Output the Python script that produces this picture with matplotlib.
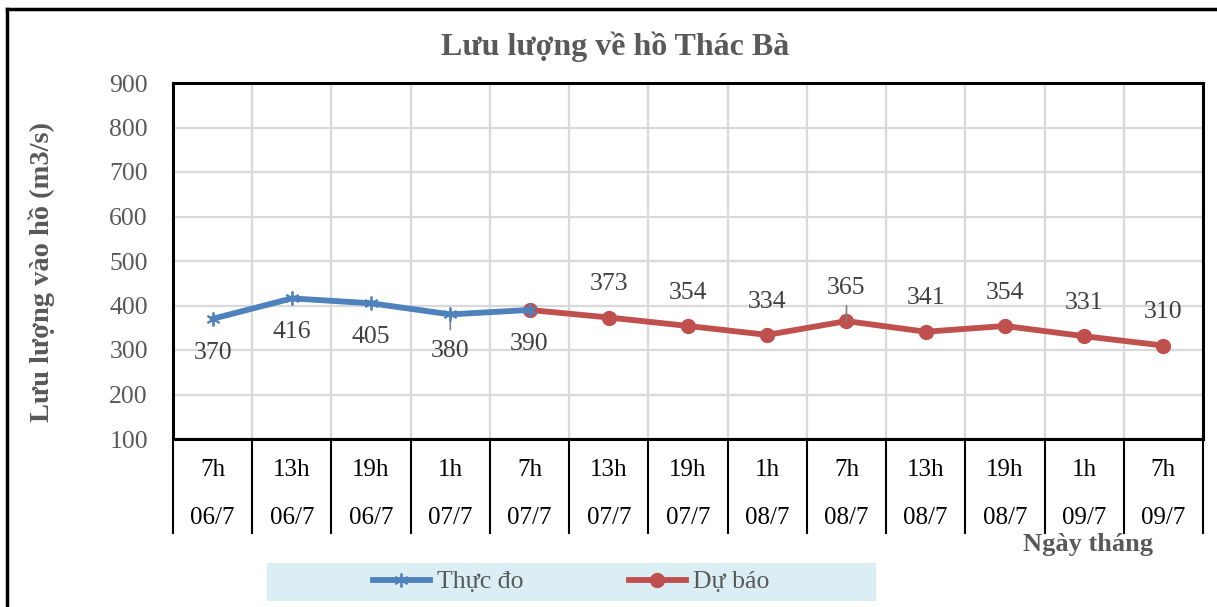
import matplotlib
matplotlib.use("Agg")
import matplotlib.pyplot as plt
from matplotlib.lines import Line2D
from matplotlib.patches import Rectangle
import matplotlib.transforms as mtransforms

hours = ["7h", "13h", "19h", "1h", "7h", "13h", "19h", "1h", "7h", "13h", "19h", "1h", "7h"]
dates = ["06/7", "06/7", "06/7", "07/7", "07/7", "07/7", "07/7", "08/7", "08/7", "08/7", "08/7", "09/7", "09/7"]
observed = [370, 416, 405, 380, 390]
forecast = [390, 373, 354, 334, 365, 341, 354, 331, 310]
forecast_start = 4

plt.rcParams['font.family'] = ['Liberation Serif', 'DejaVu Serif']

W, H = 1217, 607
fig = plt.figure(figsize=(W / 100, H / 100), dpi=100)
ax = fig.add_axes([173 / W, 1 - 439 / H, (1203 - 173) / W, (439 - 83) / H])

n = len(hours)
x_obs = list(range(len(observed)))
x_fc = list(range(forecast_start, forecast_start + len(forecast)))

ax.set_xlim(-0.5, n - 0.5)
ax.set_ylim(100, 900)
ax.set_yticks(range(100, 901, 100))
ax.set_xticks([i - 0.5 for i in range(n + 1)])
ax.set_xticklabels([])
ax.tick_params(axis='x', length=0)
ax.tick_params(axis='y', length=0, labelsize=18.5, labelcolor='#595959', pad=18)
ax.grid(True, color='#D9D9D9', linewidth=1.6)
ax.set_axisbelow(True)
for s in ax.spines.values():
    s.set_linewidth(2.2)
    s.set_color('black')

blue = '#4F81BD'
red = '#C0504D'
ax.plot(x_fc, forecast, color=red, linewidth=4.2, marker='o', markersize=10, zorder=3)
ax.plot(x_obs, observed, color=blue, linewidth=4.2, marker=(6, 2, 0), markersize=10,
        markeredgewidth=1.3, zorder=4)

for x, v in zip(x_obs, observed):
    off = -26 if x == 3 else -24.5
    ax.annotate(str(v), (x, v), xytext=(0, off), textcoords='offset points',
                ha='center', va='center', fontsize=18.5, color='#404040')
for x, v in zip(x_fc[1:], forecast[1:]):
    ax.annotate(str(v), (x, v), xytext=(0, 24), textcoords='offset points',
                ha='center', va='center', fontsize=18.5, color='#404040')

# leader lines
ax.annotate('', (3, 380), xytext=(0, -11), textcoords='offset points',
            arrowprops=dict(arrowstyle='-', color='#808080', lw=1.2, shrinkA=0, shrinkB=0))
ax.annotate('', (8, 365), xytext=(0, 11), textcoords='offset points',
            arrowprops=dict(arrowstyle='-', color='#808080', lw=1.2, shrinkA=0, shrinkB=0))

# category table
trans = mtransforms.blended_transform_factory(ax.transData, ax.transAxes)
y_bot = (439 - 533) / (439 - 83)
for i in range(n + 1):
    ax.add_line(Line2D([i - 0.5, i - 0.5], [0, y_bot], transform=trans, color='black',
                       linewidth=1.5, clip_on=False))
r1 = (439 - 470) / (439 - 83)
r2 = (439 - 518) / (439 - 83)
for i in range(n):
    ax.text(i, r1, hours[i], transform=trans, ha='center', va='center', fontsize=18, color='black')
    ax.text(i, r2, dates[i], transform=trans, ha='center', va='center', fontsize=18, color='black')

ax.set_ylabel("Lưu lượng vào hồ (m3/s)", fontsize=20.5, fontweight='bold', color='#595959')
ax.yaxis.set_label_coords(55 / W, 1 - 272 / H, transform=fig.transFigure)

fig.text(615 / W, 1 - 47 / H, "Lưu lượng về hồ Thác Bà", ha='center', va='center',
         fontsize=23, fontweight='bold', color='#595959')
fig.text(1088 / W, 1 - 545 / H, "Ngày tháng", ha='center', va='center',
         fontsize=19, fontweight='bold', color='#595959')

# legend
fig.patches.append(Rectangle((267 / W, 1 - 601 / H), 609 / W, 38 / H, transform=fig.transFigure,
                             facecolor='#DAEEF3', edgecolor='none', zorder=0))
handles = [Line2D([], [], color=blue, linewidth=4.2, marker=(6, 2, 0), markersize=10, markeredgewidth=1.3),
           Line2D([], [], color=red, linewidth=4.2, marker='o', markersize=10)]
leg = fig.legend(handles, ["Thực đo", "Dự báo"], loc='center left',
                 bbox_to_anchor=(373 / W, 1 - 582 / H), ncol=2, frameon=False, fontsize=18.5,
                 handlelength=2.2, handletextpad=0.3, columnspacing=4.1, borderpad=0,
                 borderaxespad=0)
for t in leg.get_texts():
    t.set_color('#595959')

# figure border (left and top)
fig.add_artist(Line2D([7 / W, 7 / W], [0, 1 - 9 / H], transform=fig.transFigure, color='black', linewidth=2.5))
fig.add_artist(Line2D([7 / W, 1], [1 - 9 / H, 1 - 9 / H], transform=fig.transFigure, color='black', linewidth=2.5))

fig.savefig("out.png", dpi=100)
